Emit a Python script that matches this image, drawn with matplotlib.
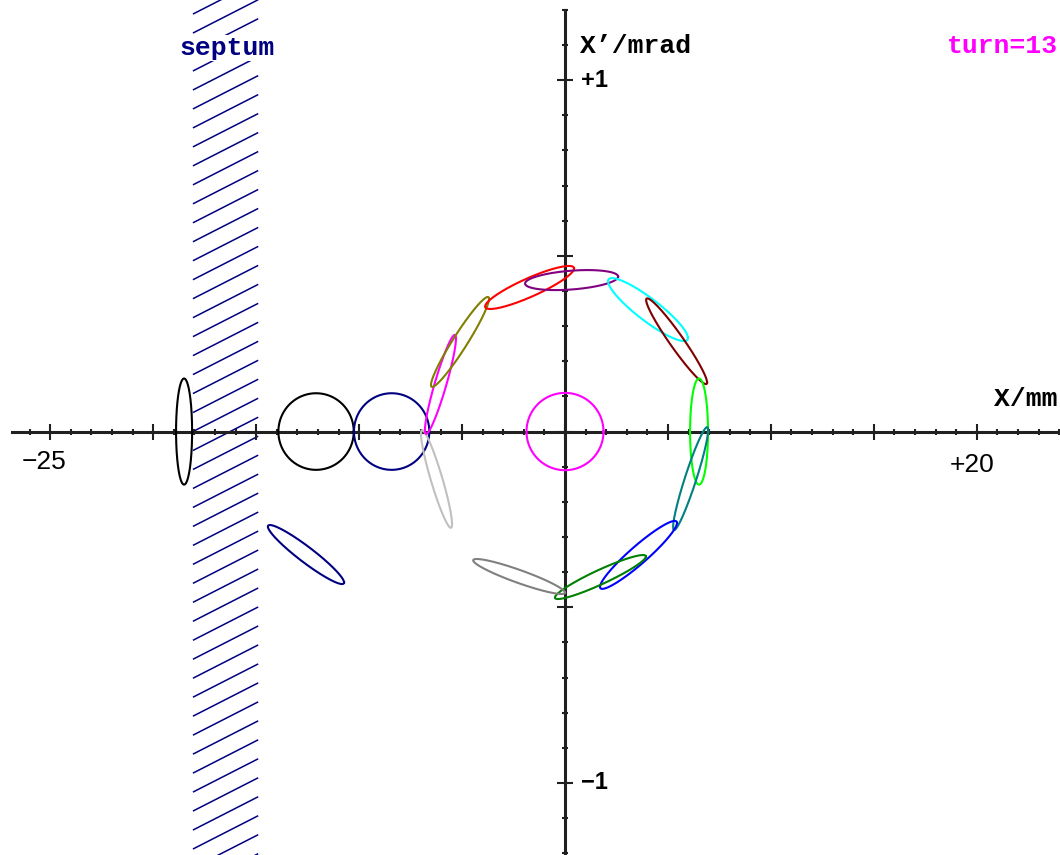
import matplotlib.pyplot as plt
import numpy as np

# 相空间中各束流椭圆：中心 (cx, cy)，X 方向半宽 ax (mm)，X' 方向半高 ay (mrad)，
# phi 为 X 与 X' 之间的相位差 (度)，phi<90 正相关，phi>90 负相关
ellipse_colors = ["black", "black", "navy", "navy", "silver", "magenta", "olive",
                  "red", "purple", "cyan", "maroon", "lime", "teal", "blue",
                  "green", "gray", "magenta"]
ellipse_cx = [-18.50, -12.09, -8.42, -12.58, -6.24, -6.05, -5.10, -1.72, 0.32,
              4.03, 5.42, 6.51, 6.10, 3.57, 1.72, -2.23, 0.0]
ellipse_cy = [0.0, 0.0, 0.0, -0.350, -0.135, 0.134, 0.255, 0.410, 0.431,
              0.347, 0.257, 0.0, -0.134, -0.351, -0.414, -0.4125, 0.0]
ellipse_ax = [0.39, 1.83, 1.83, 1.85, 0.753, 0.753, 1.41, 2.16, 2.26,
              1.94, 1.48, 0.437, 0.85, 1.87, 2.21, 2.23, 1.87]
ellipse_ay = [0.151, 0.109, 0.109, 0.084, 0.139, 0.141, 0.128, 0.0612, 0.0285,
              0.0896, 0.122, 0.151, 0.1465, 0.0967, 0.0626, 0.0498, 0.110]
ellipse_phi = [90, 90, 90, 161, 157, 23, 17, 28, 70,
               154, 164, 90, 20, 20, 21, 157, 90]

# 切割板 (septum) 的位置 (mm)
septum_left = -18.07
septum_right = -14.9

turn = 13

x_major = np.arange(-25, 21, 5)
x_minor = np.arange(-26, 25, 1)
y_major = np.arange(-1.0, 1.01, 0.5)
y_minor = np.arange(-1.2, 1.21, 0.1)

fig = plt.figure(figsize=(10.6, 8.55), dpi=100)
ax = fig.add_axes([0, 0, 1, 1])
ax.set_xlim(-27.44, 24.04)
ax.set_ylim(-1.205, 1.228)

# 十字坐标轴
ax.spines["top"].set_visible(False)
ax.spines["right"].set_visible(False)
ax.spines["left"].set_position(("data", 0))
ax.spines["bottom"].set_position(("data", 0))
ax.spines["left"].set_bounds(-1.25, 1.2)
ax.spines["bottom"].set_bounds(-26.85, 24.1)
for s in ["left", "bottom"]:
    ax.spines[s].set_linewidth(2.2)
    ax.spines[s].set_color("#202020")
    ax.spines[s].set_zorder(1)

ax.set_xticks(x_major)
ax.set_xticks(x_minor, minor=True)
ax.set_yticks(y_major)
ax.set_yticks(y_minor, minor=True)
ax.tick_params(which="major", direction="inout", length=11, width=1.5,
               color="#202020", labelbottom=False, labelleft=False)
ax.tick_params(which="minor", direction="inout", length=5, width=1.5,
               color="#202020")

# 切割板的斜线阴影
slope = 0.0299  # mrad/mm
for c in np.arange(-1.35, 1.3, 0.054):
    ax.plot([septum_left, septum_right],
            [c, c + slope * (septum_right - septum_left)],
            color="navy", linewidth=1.1, zorder=0.5, solid_capstyle="butt")

# 束流椭圆
t = np.linspace(0, 2 * np.pi, 400)
for i in range(len(ellipse_cx)):
    phi = np.radians(ellipse_phi[i])
    x = ellipse_cx[i] + ellipse_ax[i] * np.cos(t)
    y = ellipse_cy[i] + ellipse_ay[i] * np.cos(t - phi)
    ax.plot(x, y, color=ellipse_colors[i], linewidth=1.5, zorder=2)

mono = ["Liberation Mono", "DejaVu Sans Mono"]
sans = ["Liberation Sans", "DejaVu Sans"]

ax.text(-16.39, 1.091, "septum", color="navy", fontsize=19, fontweight="bold",
        family=mono, ha="center", va="center", zorder=3,
        bbox=dict(facecolor="white", edgecolor="none", pad=1))
ax.text(0.73, 1.097, "X’/mrad", color="black", fontsize=19, fontweight="bold",
        family=mono, ha="left", va="center")
ax.text(23.94, 0.0925, "X/mm", color="black", fontsize=19, fontweight="bold",
        family=mono, ha="right", va="center")
ax.text(23.94, 1.097, f"turn={turn}", color="magenta", fontsize=19,
        fontweight="bold", family=mono, ha="right", va="center")

ax.text(0.8, 1.0, "+1", fontsize=17, fontweight="bold", family=sans,
        ha="left", va="center")
ax.text(0.8, -1.0, "−1", fontsize=17, fontweight="bold", family=sans,
        ha="left", va="center")
ax.text(-25.3, -0.087, "−25", fontsize=19, family=sans, ha="center", va="center")
ax.text(19.75, -0.095, "+20", fontsize=19, family=sans, ha="center", va="center")

fig.savefig("out.png", dpi=100, facecolor="white")
